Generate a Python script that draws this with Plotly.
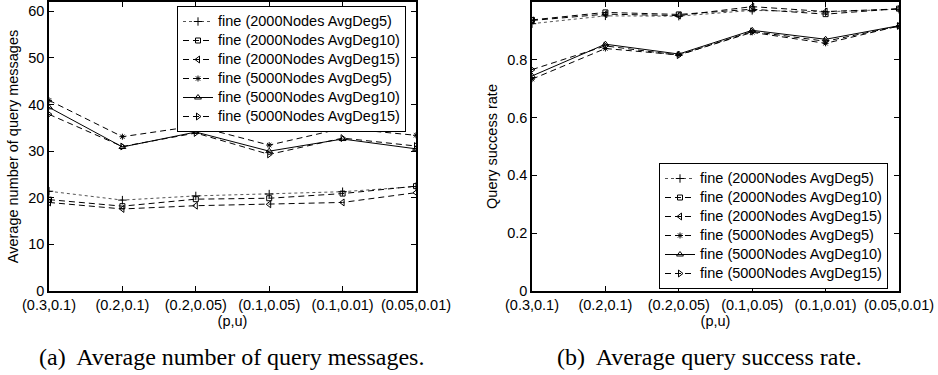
import plotly.graph_objects as go

categories = ["(0.3,0.1)", "(0.2,0.1)", "(0.2,0.05)", "(0.1,0.05)", "(0.1,0.01)", "(0.05,0.01)"]

series_names = [
    "fine (2000Nodes AvgDeg5)",
    "fine (2000Nodes AvgDeg10)",
    "fine (2000Nodes AvgDeg15)",
    "fine (5000Nodes AvgDeg5)",
    "fine (5000Nodes AvgDeg10)",
    "fine (5000Nodes AvgDeg15)",
]

# (a) Average number of query messages
msg_2000_deg5 = [21.4, 19.5, 20.4, 20.8, 21.3, 22.4]
msg_2000_deg10 = [19.6, 18.2, 19.7, 19.9, 20.9, 22.5]
msg_2000_deg15 = [19.0, 17.6, 18.3, 18.6, 19.0, 21.1]
msg_5000_deg5 = [40.9, 33.1, 35.4, 31.3, 34.9, 33.4]
msg_5000_deg10 = [39.4, 30.9, 34.1, 30.0, 32.6, 30.5]
msg_5000_deg15 = [37.9, 31.0, 33.9, 29.3, 32.8, 31.1]

# (b) Average query success rate
rate_2000_deg5 = [0.925, 0.952, 0.951, 0.971, 0.966, 0.975]
rate_2000_deg10 = [0.938, 0.964, 0.957, 0.975, 0.958, 0.977]
rate_2000_deg15 = [0.936, 0.958, 0.953, 0.984, 0.967, 0.976]
rate_5000_deg5 = [0.733, 0.839, 0.817, 0.895, 0.857, 0.917]
rate_5000_deg10 = [0.744, 0.854, 0.820, 0.902, 0.871, 0.918]
rate_5000_deg15 = [0.766, 0.848, 0.816, 0.898, 0.864, 0.917]

msg_series = [msg_2000_deg5, msg_2000_deg10, msg_2000_deg15,
              msg_5000_deg5, msg_5000_deg10, msg_5000_deg15]
rate_series = [rate_2000_deg5, rate_2000_deg10, rate_2000_deg15,
               rate_5000_deg5, rate_5000_deg10, rate_5000_deg15]

styles = [
    dict(symbol="cross-thin-open", dash="dot", color="#555555", size=6),
    dict(symbol="square-open", dash="6px,4px", color="black", size=5),
    dict(symbol="triangle-left-open", dash="6px,4px", color="black", size=6),
    dict(symbol="asterisk-open", dash="6px,4px", color="black", size=5),
    dict(symbol="triangle-up-open", dash="solid", color="black", size=6),
    dict(symbol="triangle-right-open", dash="6px,4px", color="black", size=6),
]

SANS = "Liberation Sans, Arial, sans-serif"
TXT = 14.5


def legend_label(n):
    return f"<span style='font-size:{TXT}px'>{n}</span>"


fig = go.Figure()
for name, ys, st in zip(series_names, msg_series, styles):
    fig.add_trace(go.Scatter(
        x=categories, y=ys, name=legend_label(name), mode="lines+markers",
        xaxis="x", yaxis="y", legend="legend",
        line=dict(color=st["color"], dash=st["dash"], width=1),
        marker=dict(symbol=st["symbol"], size=st["size"], color="black",
                    line=dict(color="black", width=1)),
    ))
for name, ys, st in zip(series_names, rate_series, styles):
    fig.add_trace(go.Scatter(
        x=categories, y=ys, name=legend_label(name), mode="lines+markers",
        xaxis="x2", yaxis="y2", legend="legend2",
        line=dict(color=st["color"], dash=st["dash"], width=1),
        marker=dict(symbol=st["symbol"], size=st["size"], color="black",
                    line=dict(color="black", width=1)),
    ))

W, H = 938, 375
ydom = [(H - 291) / H, (H - 2) / H]
axis_font = dict(family=SANS, size=TXT, color="black")

common_x = dict(type="category", range=[0, 5], showline=True, linewidth=1.5,
                linecolor="black", mirror="ticks", ticks="inside", ticklen=5,
                tickcolor="black", tickwidth=1, showgrid=False, zeroline=False,
                tickfont=axis_font, fixedrange=True, automargin=False)
common_y = dict(showline=True, linewidth=1.5, linecolor="black", mirror="ticks",
                ticks="inside", ticklen=5, tickcolor="black", tickwidth=1,
                showgrid=False, zeroline=False, tickfont=axis_font, fixedrange=True,
                automargin=False)

legend_common = dict(bgcolor="white", bordercolor="black", borderwidth=1,
                     font=dict(family=SANS, size=11, color="black"),
                     xanchor="left", tracegroupgap=0, itemwidth=30)

fig.update_layout(
    template="none",
    width=W, height=H,
    margin=dict(l=0, r=0, t=0, b=0),
    paper_bgcolor="white", plot_bgcolor="white",
    xaxis=dict(common_x, domain=[49 / W, 416 / W], anchor="y",
               title=dict(text="(p,u)", font=axis_font, standoff=0)),
    yaxis=dict(common_y, domain=ydom, anchor="x", range=[0, 62],
               tickvals=[0, 10, 20, 30, 40, 50, 60],
               title=dict(text="Average number of query messages", font=axis_font, standoff=6)),
    xaxis2=dict(common_x, domain=[532 / W, 899 / W], anchor="y2",
                title=dict(text="(p,u)", font=axis_font, standoff=0)),
    yaxis2=dict(common_y, domain=ydom, anchor="x2", range=[0, 1],
                tickvals=[0, 0.2, 0.4, 0.6, 0.8, 1],
                ticktext=["0", "0.2", "0.4", "0.6", "0.8", "1"],
                title=dict(text="Query success rate", font=axis_font, standoff=6)),
    legend=dict(legend_common, x=177 / W, y=1 - 6 / H, yanchor="top"),
    legend2=dict(legend_common, x=659 / W, y=1 - 289 / H, yanchor="bottom"),
    annotations=[
        dict(text="(a)  Average number of query messages.", x=231 / W, y=1 - 357 / H,
             xref="paper", yref="paper", showarrow=False, xanchor="center", yanchor="middle",
             font=dict(family="Liberation Serif, Times New Roman, serif", size=24, color="black")),
        dict(text="(b)  Average query success rate.", x=709 / W, y=1 - 357 / H,
             xref="paper", yref="paper", showarrow=False, xanchor="center", yanchor="middle",
             font=dict(family="Liberation Serif, Times New Roman, serif", size=24, color="black")),
    ],
    showlegend=True,
)

fig.write_html("out.html")
